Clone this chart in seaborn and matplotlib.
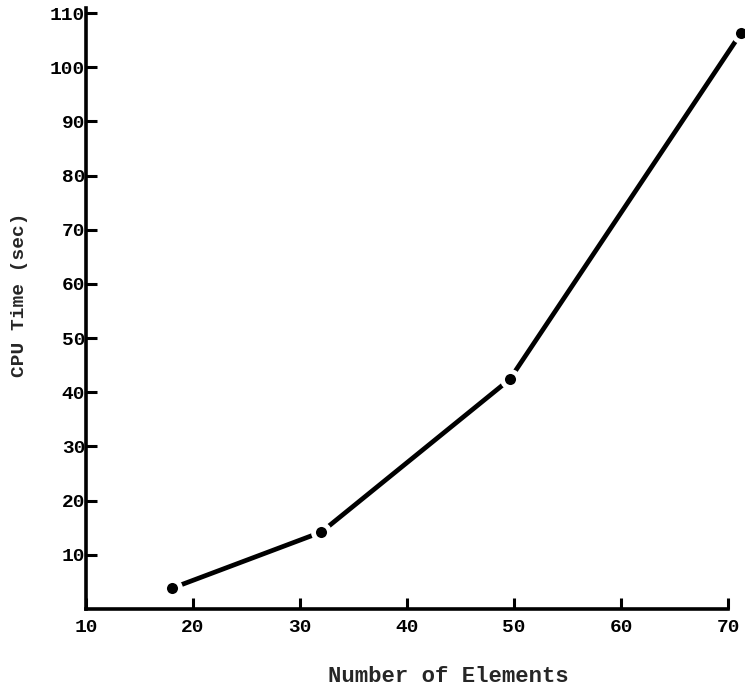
"""CPU time versus number of elements."""
import matplotlib
matplotlib.use("Agg")
import matplotlib.pyplot as plt
import seaborn as sns
import pandas as pd

# values
elements = [18, 32, 49.6, 71.2]
cpu_time = [3.8, 14.2, 42.4, 106.3]
x_ticks = [10, 20, 30, 40, 50, 60, 70]
y_ticks = [10, 20, 30, 40, 50, 60, 70, 80, 90, 100, 110]

sns.set_style("ticks")
plt.rcParams["font.family"] = ["Liberation Mono", "DejaVu Sans Mono"]
plt.rcParams["font.weight"] = "bold"

df = pd.DataFrame({"elements": elements, "cpu": cpu_time})

fig = plt.figure(figsize=(7.45, 6.92), dpi=100)
ax = fig.add_axes([0.1154, 0.12, 0.862, 0.869])

sns.lineplot(data=df, x="elements", y="cpu", ax=ax, color="black",
             linewidth=3.4, marker="o", markersize=11.5,
             markerfacecolor="black", markeredgecolor="white",
             markeredgewidth=3.5, clip_on=False)

ax.set_xlim(10, 70)
ax.set_ylim(0, 111)
ax.set_xticks(x_ticks)
ax.set_yticks(y_ticks)
ax.set_xticklabels([str(v) for v in x_ticks], fontsize=14, fontweight="bold")
ax.set_yticklabels([str(v) for v in y_ticks], fontsize=14, fontweight="bold")

ax.tick_params(axis="x", direction="in", length=8, width=2.2, pad=7, colors="black")
ax.tick_params(axis="y", direction="in", length=8, width=2.2, pad=0.5, colors="black")

sns.despine(ax=ax)
for side in ["left", "bottom"]:
    ax.spines[side].set_linewidth(2.6)
    ax.spines[side].set_color("black")

ax.set_xlabel("Number of Elements", fontsize=16, fontweight="bold")
ax.set_ylabel("CPU Time (sec)", fontsize=14, fontweight="bold")
ax.xaxis.set_label_coords(0.564, -0.095)
ax.yaxis.set_label_coords(-0.09, 0.522)

fig.savefig("out.png", dpi=100)
